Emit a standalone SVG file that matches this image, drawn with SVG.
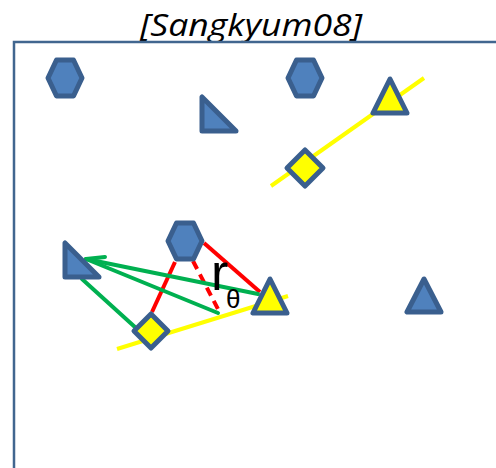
<svg xmlns="http://www.w3.org/2000/svg" width="496" height="468" viewBox="0 0 496 468">
  <style>
    .blue { fill: #4f81bd; stroke: #3a5f8e; stroke-width: 5; stroke-linejoin: round; }
    .yel { fill: #ffff00; stroke: #3a5f8e; stroke-width: 5; stroke-linejoin: round; }
    .guide { stroke: #ffff00; stroke-width: 4; fill: none; }
    .red { stroke: #ff0000; stroke-width: 4; fill: none; }
    .green { stroke: #00b050; stroke-width: 4; fill: none; stroke-linecap: round; }
    .title { font-family: "Open Sans", "Liberation Sans", Arial, sans-serif; font-style: italic; font-size: 31px; fill: #000; }
    .label { font-family: "Liberation Sans", Arial, sans-serif; fill: #000; }
  </style>
  <rect width="496" height="468" fill="#ffffff"/>

  <text class="title" x="251" y="36" text-anchor="middle" textLength="222" lengthAdjust="spacingAndGlyphs">[Sangkyum08]</text>

  <!-- frame -->
  <path d="M14,468 V42 H496" fill="none" stroke="#41668f" stroke-width="2.5"/>

  <!-- guide lines -->
  <g id="guides">
    <line class="guide" x1="271" y1="186" x2="424" y2="78"/>
    <line class="guide" x1="117" y1="349" x2="288" y2="296"/>
  </g>

  <!-- connectors -->
  <g id="connectors">
    <line class="red" x1="204" y1="243" x2="260" y2="292"/>
    <line class="red" x1="175" y1="262" x2="152" y2="312"/>
    <line class="red" x1="193" y1="261" x2="220" y2="313" stroke-dasharray="9,6"/>
    <line class="green" x1="86" y1="259" x2="258" y2="294"/>
    <line class="green" x1="86" y1="259" x2="218" y2="313"/>
    <line class="green" x1="86" y1="259" x2="105" y2="257"/>
    <line class="green" x1="82" y1="279" x2="136" y2="328"/>
  </g>

  <!-- nodes -->
  <g id="hex-a"><polygon class="blue" points="48,78 56.5,60 73.5,60 82,78 73.5,96 56.5,96"/></g>
  <g id="hex-b"><polygon class="blue" points="288,78 296.5,60 313.5,60 322,78 313.5,96 296.5,96"/></g>
  <g id="hex-c"><polygon class="blue" points="168,241 176.5,223 193.5,223 202,241 193.5,259 176.5,259"/></g>

  <g id="rtri-a"><polygon class="blue" points="202,97 202,131 236,131"/></g>
  <g id="rtri-b"><polygon class="blue" points="65,243 65,277 99,277"/></g>

  <g id="tri-blue"><polygon class="blue" points="424,279 407,312 441,312"/></g>

  <g id="tri-yel-a"><polygon class="yel" points="390,79 373,113 407,113"/></g>
  <g id="tri-yel-b"><polygon class="yel" points="270,279 253,313 287,313"/></g>

  <g id="dia-a"><polygon class="yel" points="305,150 323,168 305,186 287,168"/></g>
  <g id="dia-b"><polygon class="yel" points="151,314 168,331 151,348 134,331"/></g>

  <g id="label-r">
    <text class="label" x="211" y="290" font-size="52">r</text>
    <text class="label" x="226" y="308" font-size="26">θ</text>
  </g>
</svg>
